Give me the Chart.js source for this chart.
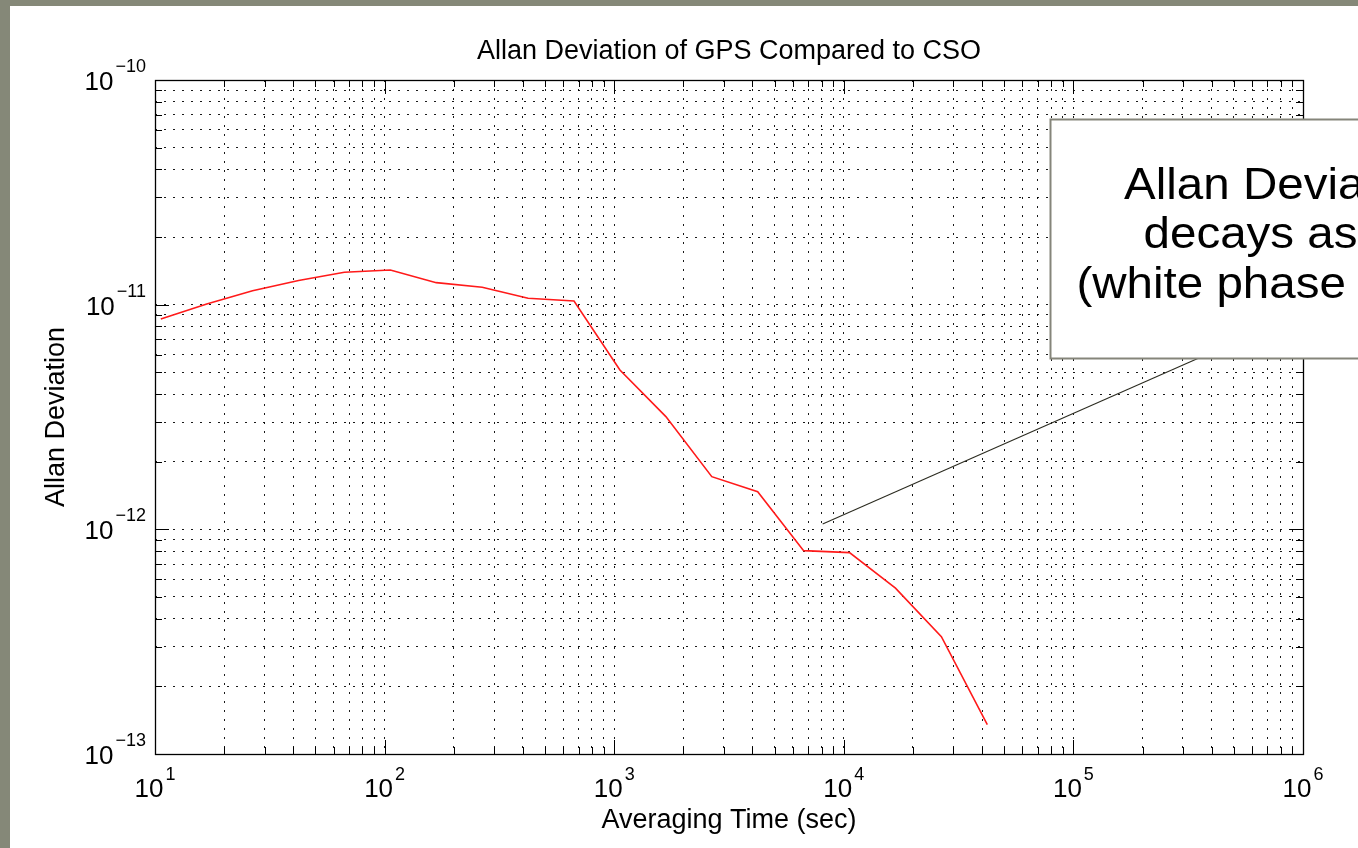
<!DOCTYPE html>
<html>
<head>
<meta charset="utf-8">
<title>Allan Deviation of GPS Compared to CSO</title>
<script src="https://cdn.jsdelivr.net/npm/chart.js@4.4.1/dist/chart.umd.min.js"></script>
<style>
    html, body { margin: 0; padding: 0; width: 1358px; height: 848px; overflow: hidden; background: #858878; }
    #panel { position: absolute; left: 10px; top: 6px; width: 1348px; height: 842px; background: #fff; }
</style>
</head>
<body>
<div id="panel"><canvas id="adev"></canvas></div>
<script>
// ---- data ----
const tauSec  = [10.6, 16.8, 26.6, 42.2, 66.8, 105.9, 167.9, 266.1, 421.7, 668.3,
                 1059, 1679, 2661, 4217, 6683, 10590, 16790, 26610, 42170];
const adevGps = [8.64e-12, 1.007e-11, 1.153e-11, 1.28e-11, 1.393e-11, 1.427e-11, 1.253e-11, 1.195e-11, 1.068e-11, 1.039e-11,
                 5.12e-12, 3.175e-12, 1.716e-12, 1.471e-12, 8.04e-13, 7.88e-13, 5.47e-13, 3.33e-13, 1.35e-13];

// callout leader line, in axis units
const leaderTau  = [8090, 3.5e5];
const leaderAdev = [1.055e-12, 5.77e-12];

// axis ticks
const xDecades   = [1e1, 1e2, 1e3, 1e4, 1e5, 1e6];
const xExponents = ['1', '2', '3', '4', '5', '6'];
const yDecades   = [1e-13, 1e-12, 1e-11, 1e-10];
const yExponents = ['\u221213', '\u221212', '\u221211', '\u221210'];
const minorSteps = [2, 3, 4, 5, 6, 7, 8, 9];

// callout box (left edge / top / bottom in axis units) and its text
const callout = { tau: 7.9e4, top: 6.7e-11, bottom: 5.77e-12 };
const calloutLines = ['Allan Deviation', 'decays as \u03c4\u207b\u00b9', '(white phase noise)'];

const FONT = "'Liberation Sans', Arial, sans-serif";

function logTicks(decades) {
    const out = [];
    decades.forEach((d, i) => {
        out.push(d);
        if (i < decades.length - 1) minorSteps.forEach(s => out.push(d * s));
    });
    return out;
}

function setTicks(values) {
    return scale => { scale.ticks = values.map(v => ({ value: v })); };
}

// ─── axes box, inward ticks, labels, titles, callout ───
const matlabFrame = {
    id: 'matlabFrame',
    afterDraw(chart) {
        const { ctx, chartArea: a, scales: { x, y } } = chart;
        ctx.save();

        // inward tick marks on all four sides
        ctx.strokeStyle = '#000';
        ctx.lineWidth = 1;
        ctx.beginPath();
        logTicks(xDecades).forEach(v => {
            const px = Math.round(x.getPixelForValue(v)) + 0.5;
            const len = xDecades.includes(v) ? 14 : 7;
            ctx.moveTo(px, a.bottom); ctx.lineTo(px, a.bottom - len);
            ctx.moveTo(px, a.top); ctx.lineTo(px, a.top + len);
        });
        logTicks(yDecades).forEach(v => {
            const py = Math.round(y.getPixelForValue(v)) + 0.5;
            const len = yDecades.includes(v) ? 14 : 7;
            ctx.moveTo(a.left, py); ctx.lineTo(a.left + len, py);
            ctx.moveTo(a.right, py); ctx.lineTo(a.right - len, py);
        });
        ctx.stroke();

        ctx.lineWidth = 1.3;
        ctx.strokeRect(Math.round(a.left) + 0.5, Math.round(a.top) + 0.5,
                       Math.round(a.right - a.left), Math.round(a.bottom - a.top));

        // x tick labels: 10^n
        ctx.fillStyle = '#000';
        ctx.textBaseline = 'alphabetic';
        xDecades.forEach((d, i) => {
            const px = x.getPixelForValue(d);
            ctx.font = `26px ${FONT}`;
            const wb = ctx.measureText('10').width;
            ctx.font = `18px ${FONT}`;
            const ws = ctx.measureText(xExponents[i]).width;
            const x0 = px - (wb + ws + 2) / 2;
            ctx.textAlign = 'left';
            ctx.font = `26px ${FONT}`;
            ctx.fillText('10', x0, a.bottom + 43);
            ctx.font = `18px ${FONT}`;
            ctx.fillText(xExponents[i], x0 + wb + 2, a.bottom + 26);
        });

        // y tick labels: 10^-n
        yDecades.forEach((d, i) => {
            const py = y.getPixelForValue(d);
            const right = a.left - 9;
            ctx.font = `18px ${FONT}`;
            const ws = ctx.measureText(yExponents[i]).width;
            ctx.textAlign = 'right';
            ctx.fillText(yExponents[i], right, py - 8);
            ctx.font = `26px ${FONT}`;
            ctx.fillText('10', right - ws - 2, py + 10);
        });

        // titles
        const midX = (a.left + a.right) / 2;
        ctx.textAlign = 'center';
        ctx.textBaseline = 'middle';
        ctx.font = `27px ${FONT}`;
        ctx.fillText('Allan Deviation of GPS Compared to CSO', midX, 46);
        ctx.fillText('Averaging Time (sec)', midX, 815);
        ctx.save();
        ctx.translate(47, (a.top + a.bottom) / 2);
        ctx.rotate(-Math.PI / 2);
        ctx.fillText('Allan Deviation', 0, 0);
        ctx.restore();

        // callout box, runs off the right edge
        const bx = Math.round(x.getPixelForValue(callout.tau)) + 0.5;
        const by = Math.round(y.getPixelForValue(callout.top)) + 0.5;
        const bb = Math.round(y.getPixelForValue(callout.bottom)) + 0.5;
        ctx.fillStyle = '#fff';
        ctx.fillRect(bx, by, chart.width - bx + 20, bb - by);
        ctx.strokeStyle = '#85857a';
        ctx.lineWidth = 2;
        ctx.strokeRect(bx, by, chart.width - bx + 20, bb - by);

        // slightly wide lettering
        ctx.fillStyle = '#000';
        ctx.font = `44px ${FONT}`;
        ctx.textAlign = 'center';
        ctx.textBaseline = 'alphabetic';
        calloutLines.forEach((t, i) => {
            ctx.save();
            ctx.translate(bx + 232, by + 79 + i * 49.5);
            ctx.scale(1.08, 1);
            ctx.fillText(t, 0, 0);
            ctx.restore();
        });

        ctx.restore();
    }
};

const chart = new Chart(document.getElementById('adev'), {
    type: 'line',
    data: {
        datasets: [
            {
                label: 'GPS vs CSO',
                data: tauSec.map((t, i) => ({ x: t, y: adevGps[i] })),
                borderColor: '#ff1a1a',
                borderWidth: 1.6,
                pointRadius: 0,
                tension: 0
            },
            {
                label: 'leader',
                data: leaderTau.map((t, i) => ({ x: t, y: leaderAdev[i] })),
                borderColor: '#2b2b20',
                borderWidth: 1.1,
                pointRadius: 0,
                tension: 0
            }
        ]
    },
    options: {
        responsive: true, maintainAspectRatio: false,
        animation: false,
        layout: { padding: { left: 145, top: 74, right: 55, bottom: 94 } },
        plugins: { legend: { display: false }, tooltip: { enabled: false } },
        scales: {
            x: {
                type: 'logarithmic', min: 1e1, max: 1e6,
                afterBuildTicks: setTicks(logTicks(xDecades)),
                ticks: { display: false },
                grid: { color: 'rgba(0,0,0,0.9)', lineWidth: 1, drawTicks: false },
                border: { display: false, dash: [2, 7] }
            },
            y: {
                type: 'logarithmic', min: 1e-13, max: 1e-10,
                afterBuildTicks: setTicks(logTicks(yDecades)),
                ticks: { display: false },
                grid: { color: 'rgba(0,0,0,0.9)', lineWidth: 1, drawTicks: false },
                border: { display: false, dash: [2, 7] }
            }
        }
    },
    plugins: [matlabFrame]
});
</script>
</body>
</html>
